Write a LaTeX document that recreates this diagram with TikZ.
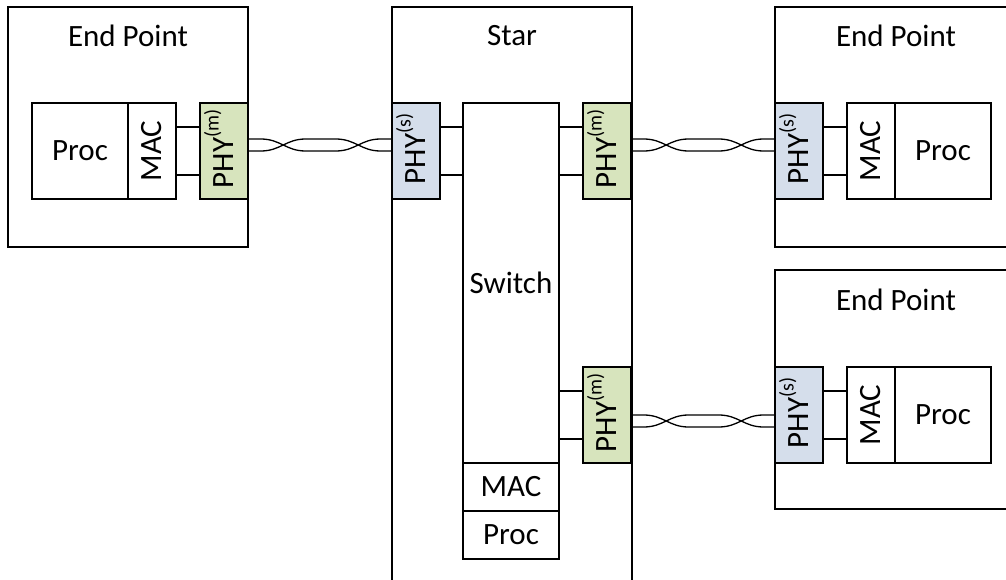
\documentclass[tikz,border=0pt]{standalone}
\usepackage{fontspec}
\setmainfont{Carlito}
\usetikzlibrary{calc}
\definecolor{phygreen}{HTML}{D7E4BD}
\definecolor{phyblue}{HTML}{D5DEEB}
\tikzset{
  box/.style={draw=black, line width=1.4pt, rectangle, inner sep=0pt, fill=white},
  boxlbl/.style={inner sep=0pt, font=\fontsize{31}{37}\selectfont},
  rotlbl/.style={inner sep=0pt, rotate=90, font=\fontsize{31}{37}\selectfont},
  greenphy/.style={box, fill=phygreen},
  bluephy/.style={box, fill=phyblue},
  wire/.style={draw=black, line width=1.3pt},
  link/.style={draw=black, line width=1.4pt}
}
\newcommand\supm{\raisebox{15pt}{\fontsize{20}{20}\selectfont(m)}}
\newcommand\sups{\raisebox{15pt}{\fontsize{20}{20}\selectfont(s)}}
\newcommand\twistpair[3]{%
  \coordinate (tw) at ([yshift=#3]#1.east);
  \draw[wire] (tw) -- ($(tw)+(12,0)$) .. controls ($(tw)+(32,0)$) and ($(tw)+(37,12)$) .. ($(tw)+(57,12)$) -- ($(tw)+(87,12)$) .. controls ($(tw)+(107,12)$) and ($(tw)+(112,0)$) .. ($(tw)+(132,0)$) -- ([yshift=#3]#2.west);
  \draw[wire] ([yshift=#3-12]#1.east) -- ($(tw)+(12,12)$) .. controls ($(tw)+(32,12)$) and ($(tw)+(37,0)$) .. ($(tw)+(57,0)$) -- ($(tw)+(87,0)$) .. controls ($(tw)+(107,0)$) and ($(tw)+(112,12)$) .. ($(tw)+(132,12)$) -- ([yshift=#3-12]#2.west);
}
\begin{document}
\begin{tikzpicture}[x=1pt, y=-1pt]
\useasboundingbox (0,0) rectangle (1006,580);
\clip (0,0) rectangle (1006,580);
\fill[white] (0,0) rectangle (1006,580);

% ---------- left end point ----------
\node[box, minimum width=240, minimum height=240] (epL) at (128,127) {};
\node[boxlbl] (epLt) at (128,36) {End Point};
\node[box, minimum width=96, minimum height=96] (procL) at (80,151) {};
\node[boxlbl] (procLt) at (procL.center) {Proc};
\node[box, minimum width=48, minimum height=96] (macL) at (152,151) {};
\node[rotlbl] (macLt) at (macL.center) {MAC};
\node[greenphy, minimum width=48, minimum height=96] (phyL) at (224,151) {};
\node[rotlbl, anchor=base] (phyLt) at ([xshift=9.5pt, yshift=2pt]phyL.center) {PHY\supm};
\draw[link] ([yshift=24]macL.east) -- ([yshift=24]phyL.west);
\draw[link] ([yshift=-24]macL.east) -- ([yshift=-24]phyL.west);

% ---------- star ----------
\node[box, minimum width=240, minimum height=640] (star) at (512,327) {};
\node[boxlbl] (start) at (512,36) {Star};
\node[bluephy, minimum width=48, minimum height=96] (phySs) at (416,151) {};
\node[rotlbl, anchor=base] (phySst) at ([xshift=9.5pt, yshift=2pt]phySs.center) {PHY\sups};
\node[box, minimum width=96, minimum height=360] (sw) at (511,283) {};
\node[boxlbl] (swt) at (sw.center) {Switch};
\node[box, minimum width=96, minimum height=48] (macS) at (511,487) {};
\node[boxlbl] (macSt) at (macS.center) {MAC};
\node[box, minimum width=96, minimum height=48] (procS) at (511,535) {};
\node[boxlbl] (procSt) at (procS.center) {Proc};
\node[greenphy, minimum width=48, minimum height=96] (phySm1) at (607,151) {};
\node[rotlbl, anchor=base] (phySm1t) at ([xshift=9.5pt, yshift=2pt]phySm1.center) {PHY\supm};
\node[greenphy, minimum width=48, minimum height=96] (phySm2) at (607,415) {};
\node[rotlbl, anchor=base] (phySm2t) at ([xshift=9.5pt, yshift=2pt]phySm2.center) {PHY\supm};
\draw[link] (phySs.east |- 0,127) -- (sw.west |- 0,127);
\draw[link] (phySs.east |- 0,175) -- (sw.west |- 0,175);
\draw[link] (sw.east |- 0,127) -- (phySm1.west |- 0,127);
\draw[link] (sw.east |- 0,175) -- (phySm1.west |- 0,175);
\draw[link] (sw.east |- 0,391) -- (phySm2.west |- 0,391);
\draw[link] (sw.east |- 0,439) -- (phySm2.west |- 0,439);

% ---------- right end point 1 ----------
\node[box, minimum width=280, minimum height=240] (epR1) at (915,127) {};
\node[boxlbl] (epR1t) at (896,36) {End Point};
\node[bluephy, minimum width=48, minimum height=96] (phyR1) at (799,151) {};
\node[rotlbl, anchor=base] (phyR1t) at ([xshift=9.5pt, yshift=2pt]phyR1.center) {PHY\sups};
\node[box, minimum width=48, minimum height=96] (macR1) at (871,151) {};
\node[rotlbl] (macR1t) at (macR1.center) {MAC};
\node[box, minimum width=96, minimum height=96] (procR1) at (943,151) {};
\node[boxlbl] (procR1t) at (procR1.center) {Proc};
\draw[link] ([yshift=24]phyR1.east) -- ([yshift=24]macR1.west);
\draw[link] ([yshift=-24]phyR1.east) -- ([yshift=-24]macR1.west);

% ---------- right end point 2 ----------
\node[box, minimum width=280, minimum height=239] (epR2) at (915,389.5) {};
\node[boxlbl] (epR2t) at (896,300) {End Point};
\node[bluephy, minimum width=48, minimum height=96] (phyR2) at (799,415) {};
\node[rotlbl, anchor=base] (phyR2t) at ([xshift=9.5pt, yshift=2pt]phyR2.center) {PHY\sups};
\node[box, minimum width=48, minimum height=96] (macR2) at (871,415) {};
\node[rotlbl] (macR2t) at (macR2.center) {MAC};
\node[box, minimum width=96, minimum height=96] (procR2) at (943,415) {};
\node[boxlbl] (procR2t) at (procR2.center) {Proc};
\draw[link] ([yshift=24]phyR2.east) -- ([yshift=24]macR2.west);
\draw[link] ([yshift=-24]phyR2.east) -- ([yshift=-24]macR2.west);

% ---------- twisted pair cables ----------
\twistpair{phyL}{phySs}{12}
\twistpair{phySm1}{phyR1}{12}
\twistpair{phySm2}{phyR2}{0}
\end{tikzpicture}
\end{document}
